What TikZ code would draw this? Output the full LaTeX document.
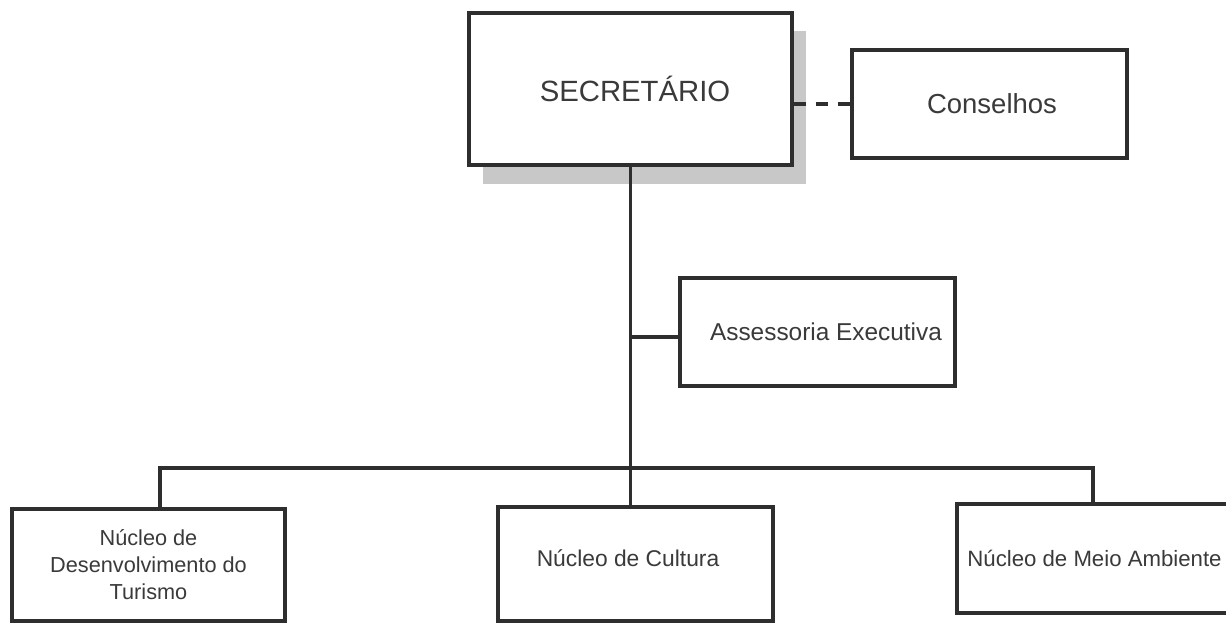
\documentclass[tikz,border=0pt]{standalone}
\usepackage{fontspec}
\setmainfont{Liberation Sans}
\begin{document}
\begin{tikzpicture}[x=1pt,y=-1pt,
  box/.style={draw=linecol,line width=3.1pt,fill=white,inner sep=0pt,align=center,
    text=textcol,font=\fontsize{22.5}{27}\selectfont},
  conn/.style={draw=linecol,line width=3.1pt},
]
\definecolor{linecol}{HTML}{2E2E2E}
\definecolor{textcol}{HTML}{3A3A3A}
\definecolor{shadowcol}{HTML}{C8C8C8}
\useasboundingbox (0,0) rectangle (1226,622);
\clip (0,0) rectangle (1226,622);
% shadow of the top box
\fill[shadowcol] (483,31) rectangle (806,184);
\node[box,minimum width=323pt,minimum height=152pt,font=\fontsize{29.3}{34}\selectfont] (sec) at (630.5,89) {\hspace*{9pt}\raisebox{-4pt}{SECRETÁRIO}};
\node[box,minimum width=275pt,minimum height=108pt,font=\fontsize{27.5}{32}\selectfont] (con) at (989.5,104) {\hspace*{5pt}\raisebox{1pt}{Conselhos}};
\node[box,minimum width=275pt,minimum height=108pt,font=\fontsize{24.4}{29}\selectfont] (ass) at (817.5,332) {\hspace*{17pt}\raisebox{-2pt}{Assessoria Executiva}};
\node[box,minimum width=273pt,minimum height=112pt,font=\fontsize{21.7}{27}\selectfont] (tur) at (148.5,565) {Núcleo de\\Desenvolvimento do\\Turismo};
\node[box,minimum width=275pt,minimum height=114pt,font=\fontsize{22.8}{27}\selectfont] (cul) at (635.5,564) {\raisebox{11pt}{Núcleo de Cultura}\hspace*{15pt}};
\node[box,minimum width=275pt,minimum height=109pt,font=\fontsize{22.2}{27}\selectfont] (mei) at (1094.5,558.5) {Núcleo de Meio Ambiente};
\coordinate (bl) at (160,468);
\coordinate (br) at (1093,468);
\coordinate (aj) at (630,337);
% connectors
\draw[conn] (sec.south) -- (sec.south |- cul.north);
\draw[conn] (aj) -- (ass.west |- aj);
\draw[conn] (tur.north -| bl) -- (bl) -- (br) -- (br |- mei.north);
\draw[conn,dash pattern=on 12pt off 10pt] (sec.east |- con.west) -- (con.west);
\end{tikzpicture}
\end{document}
